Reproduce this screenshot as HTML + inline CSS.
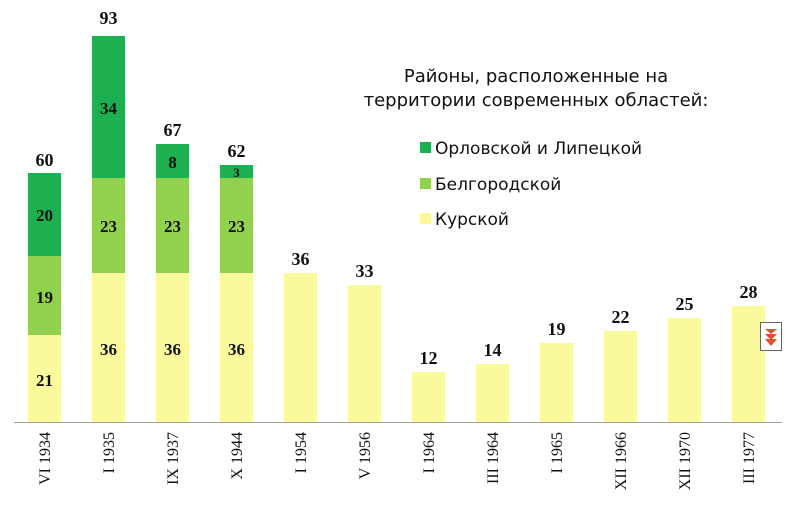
<!DOCTYPE html>
<html><head><meta charset="utf-8"><style>body{margin:0;background:#fff}svg{display:block}</style></head><body>
<svg width="796" height="512" xmlns="http://www.w3.org/2000/svg" font-family="Liberation Serif, serif">
<line x1="14" y1="422.5" x2="782" y2="422.5" stroke="#a0a0a0" stroke-width="1"/>
<g stroke="none">
<rect x="28" y="335" width="33" height="87" fill="#fafa9c"/>
<rect x="28" y="256" width="33" height="79" fill="#92d050"/>
<rect x="28" y="173" width="33" height="83" fill="#1eb050"/>
<rect x="92" y="273" width="33" height="149" fill="#fafa9c"/>
<rect x="92" y="178" width="33" height="95" fill="#92d050"/>
<rect x="92" y="36" width="33" height="142" fill="#1eb050"/>
<rect x="156" y="273" width="33" height="149" fill="#fafa9c"/>
<rect x="156" y="178" width="33" height="95" fill="#92d050"/>
<rect x="156" y="144" width="33" height="34" fill="#1eb050"/>
<rect x="220" y="273" width="33" height="149" fill="#fafa9c"/>
<rect x="220" y="178" width="33" height="95" fill="#92d050"/>
<rect x="220" y="165" width="33" height="13" fill="#1eb050"/>
<rect x="284" y="273" width="33" height="149" fill="#fafa9c"/>
<rect x="348" y="285" width="33" height="137" fill="#fafa9c"/>
<rect x="412" y="372" width="33" height="50" fill="#fafa9c"/>
<rect x="476" y="364" width="33" height="58" fill="#fafa9c"/>
<rect x="540" y="343" width="33" height="79" fill="#fafa9c"/>
<rect x="604" y="331" width="33" height="91" fill="#fafa9c"/>
<rect x="668" y="318" width="33" height="104" fill="#fafa9c"/>
<rect x="732" y="306" width="33" height="116" fill="#fafa9c"/>
</g>
<g font-weight="bold" font-size="17" text-anchor="middle" fill="#111">
<text x="44.5" y="386">21</text><text x="44.5" y="303">19</text><text x="44.5" y="221">20</text>
<text x="108.5" y="355">36</text><text x="108.5" y="232">23</text><text x="108.5" y="114">34</text>
<text x="172.5" y="355">36</text><text x="172.5" y="232">23</text><text x="172.5" y="168">8</text>
<text x="236.5" y="355">36</text><text x="236.5" y="232">23</text><text x="236.5" y="177" font-size="13">3</text>
</g>
<g font-weight="bold" font-size="18" text-anchor="middle" fill="#111">
<text x="44.5" y="166">60</text><text x="108.5" y="24">93</text><text x="172.5" y="136">67</text><text x="236.5" y="157">62</text>
<text x="300.5" y="265">36</text><text x="364.5" y="277">33</text><text x="428.5" y="364">12</text><text x="492.5" y="356">14</text>
<text x="556.5" y="335">19</text><text x="620.5" y="323">22</text><text x="684.5" y="310">25</text><text x="748.5" y="298">28</text>
</g>
<g font-size="16" text-anchor="end" fill="#111">
<text transform="translate(50,432) rotate(-90)">VI 1934</text>
<text transform="translate(114,432) rotate(-90)">I 1935</text>
<text transform="translate(178,432) rotate(-90)">IX 1937</text>
<text transform="translate(242,432) rotate(-90)">X 1944</text>
<text transform="translate(306,432) rotate(-90)">I 1954</text>
<text transform="translate(370,432) rotate(-90)">V 1956</text>
<text transform="translate(434,432) rotate(-90)">I 1964</text>
<text transform="translate(498,432) rotate(-90)">III 1964</text>
<text transform="translate(562,432) rotate(-90)">I 1965</text>
<text transform="translate(626,432) rotate(-90)">XII 1966</text>
<text transform="translate(690,432) rotate(-90)">XII 1970</text>
<text transform="translate(754,432) rotate(-90)">III 1977</text>
</g>
<g font-family="DejaVu Sans, Liberation Sans, sans-serif" font-size="18" fill="#111" text-anchor="middle">
<text x="536" y="82">Районы, расположенные на</text>
<text x="536" y="106">территории современных областей:</text>
</g>
<g font-family="DejaVu Sans, Liberation Sans, sans-serif" font-size="17" fill="#111">
<rect x="420" y="142" width="11" height="11" fill="#1eb050"/><text x="435" y="154">Орловской и Липецкой</text>
<rect x="420" y="178" width="11" height="11" fill="#92d050"/><text x="435" y="190">Белгородской</text>
<rect x="420" y="213" width="11" height="11" fill="#fafa9c"/><text x="435" y="225">Курской</text>
</g>
<rect x="760.5" y="322.5" width="21" height="28" fill="#fff" stroke="#666"/>
<g fill="#e0502a"><polygon points="765,329 777,329 771,334"/><polygon points="765,334 777,334 771,340"/><polygon points="765,339 777,339 771,346"/></g>
</svg>
</body></html>
